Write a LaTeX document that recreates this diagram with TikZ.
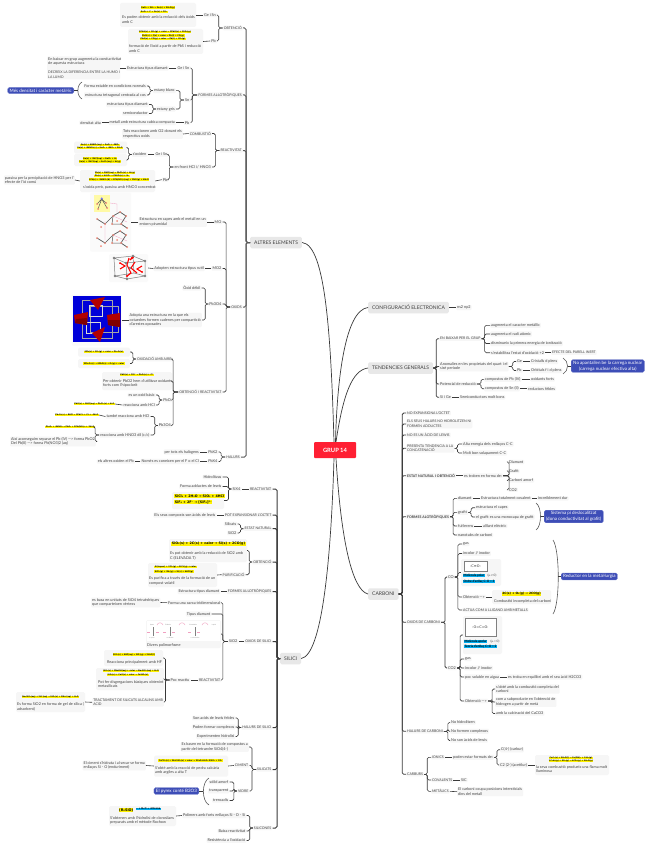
\documentclass[tikz,border=0pt]{standalone}
\usepackage{fontspec}
\setmainfont{Lato}
\newfontfamily\chemfont{DejaVu Sans}
\definecolor{txtcol}{HTML}{404040}
\definecolor{boxcol}{HTML}{F6F6F6}
\definecolor{maincol}{HTML}{E8E8E8}
\definecolor{linecol}{HTML}{3A3A3A}
\definecolor{barcol}{HTML}{5A5A5A}
\definecolor{bluecol}{HTML}{3D4DB7}
\definecolor{redcol}{HTML}{FF1F33}
\definecolor{pinkcol}{HTML}{F0A0C0}
\definecolor{saltcol}{HTML}{F08878}
\tikzset{
lab/.style={fill=boxcol,rounded corners=1,inner xsep=1,inner ysep=0.8,text=txtcol,align=left,font=\fontsize{3.8}{4.6}\selectfont},
tl/.style={lab,anchor=east},
tr/.style={lab,anchor=west},
upc/.style={font=\fontsize{3.5}{4.6}\selectfont},
upb/.style={font=\fontsize{3.5}{4.6}\selectfont\bfseries},
ins/.style={inner sep=0,anchor=west,text=txtcol,align=left,font=\fontsize{3.8}{4.6}\selectfont},
bx/.style={fill=boxcol,rounded corners=1.5,inner sep=0},
hl/.style={fill=yellow,inner xsep=0.6,inner ysep=0.3,text=black,font=\fontsize{2}{2.5}\selectfont\chemfont\bfseries},
hlb/.style={hl,font=\fontsize{3.3}{4}\selectfont\chemfont\bfseries},
cy/.style={fill=cyan,inner xsep=0.5,inner ysep=0.3,anchor=west,text=black,font=\fontsize{3.1}{4}\selectfont\bfseries},
mainnode/.style={fill=maincol,rounded corners=1.5,inner xsep=4,text=txtcol,minimum height=11.5,font=\fontsize{5}{6}\selectfont},
bluenode/.style={fill=bluecol,draw=bluecol!70,line width=0.3,rounded corners=1.5,inner xsep=2,inner ysep=1.4,text=white,align=center,font=\fontsize{4.5}{5.6}\selectfont},
lk/.style={draw=linecol,line width=0.6,rounded corners=1.5},
bar/.style={draw=barcol,line width=1,rounded corners=1.5},
curve/.style={draw=linecol,line width=0.7},
brk/.style={draw=barcol,line width=0.6},
}
\begin{document}
\begin{tikzpicture}[x=1pt,y=-1pt]
\useasboundingbox[fill=white] (0,0) rectangle (648,848);
\node[fill=redcol,rounded corners=1,text=white,minimum width=42,minimum height=16,inner sep=0,font=\fontsize{5.8}{7}\selectfont\bfseries] (G) at (335,450) {GRUP 14};
\node[mainnode,anchor=west] (altres) at (250,242.5) {ALTRES ELEMENTS};
\node[mainnode,anchor=west] (silici) at (280,658.5) {SILICI};
\node[mainnode,anchor=west] (config) at (368,307.5) {CONFIGURACIÓ ELECTRONICA};
\node[mainnode,anchor=west] (tend) at (368,368) {TENDENCIES GENERALS};
\node[mainnode,anchor=west] (carboni) at (368,594) {CARBONI};
\draw[curve] (altres.east) .. controls (326,245) and (331,340) .. ([xshift=-1]G.north);
\draw[curve] (silici.east) .. controls (322,655) and (331,560) .. ([xshift=-1]G.south);
\draw[curve] (config.west) .. controls (345,310) and (337,380) .. ([xshift=0.5]G.north);
\draw[curve] (tend.west) .. controls (352,370) and (343,395) .. ([xshift=1]G.north);
\draw[curve] (carboni.west) .. controls (352,590) and (341,540) .. ([xshift=1]G.south);

\node[tl,upc] (aob) at (243,28) {OBTENCIÓ};
\node[tl] (aobGe) at (217,15) {Ge i Sn};
\node[tl] (aobPb) at (217,41) {Pb};
\node[bx,minimum width=76,minimum height=24] (aobF) at (158,15) {};
\node[hl] (aobFa) at (158,7.5) {GeO₂ + 2H₂ → Ge(s) + 2H₂O(g)};
\node[hl] (aobFb) at (154,12) {SnO₂ + C → Sn(s) + CO₂};
\node[ins] (aobFt) at (122,19.5) {Es poden obtenir amb la reducció dels òxids\\amb C};
\node[bx,minimum width=75,minimum height=25] (aobP) at (165.5,41.5) {};
\node[hl] (aobPa) at (165,32) {2PbS(s) + 3O₂(g) + calor → 2PbO(s) + 2SO₂(g)};
\node[hl] (aobPb2) at (163,35.5) {PbO(s) + C(s) + calor → Pb(l) + CO(g)};
\node[hl] (aobPc) at (163,39) {PbO(s) + CO(g) + calor → Pb(l) + CO₂(g)};
\node[ins] (aobPt) at (129,48.5) {formació de l'òxid a partir de PbS i reducció\\amb C};
\foreach \n in {aobGe,aobPb} \draw[lk] (aob.west) -- ++(-4,0) |- (\n.east);
\draw[lk] (aobGe.west) -- (aobF.east);
\draw[lk] (aobPb.west) -- (aobP.east);

\node[tl,upc] (afo) at (243,95) {FORMES AL·LOTRÒPIQUES};
\node[tl] (afoGe) at (190.5,68) {Ge i Sn};
\node[tl] (afoSn) at (190.5,100) {Sn};
\node[tl] (afoPb) at (190.5,122.7) {Pb};
\node[tl] (afoDi) at (169,68) {Estructura tipus diamant};
\node[bx,minimum width=73,minimum height=23] (afoDb) at (83.5,68) {};
\node[ins] (afoDt) at (48,68) {En baixar en grup augmenta la conductivitat\\de aquesta estructura\\[4.6pt]{\fontsize{3.5}{4.6}\selectfont DECREIX LA DIFERENCIA ENTRE LA HUMO I}\\{\fontsize{3.5}{4.6}\selectfont LA LUMO}};
\node[tl] (afoBl) at (176,90.6) {estany blanc};
\node[tl] (afoGr) at (176,109) {estany gris};
\node[tl] (afoSa) at (147,86) {Forma estable en condicions normals};
\node[tl] (afoSb) at (147,95) {estructura tetragonal centrada al cos};
\node[tl] (afoSc) at (149,104.5) {estructura tipus diamant};
\node[tl] (afoSd) at (149,113.5) {semiconductor};
\node[tl] (afoMe) at (176,122.7) {metall amb estructura cubica compacta};
\node[tl] (afoAl) at (102,122.7) {densitat alta};
\node[bluenode,anchor=east] (afoBn) at (74,90.5) {Més densitat i caràcter metàl·lic};
\coordinate (afoK) at (78,90.5);
\draw[brk] (82,82) .. controls (76.5,85) and (76.5,96) .. (82,99);
\draw[lk] (afoK) -- (afoBn.east);
\foreach \n in {afoGe,afoSn,afoPb} \draw[lk] (afo.west) -- ++(-5,0) |- (\n.east);
\draw[lk] (afoGe.west) -- (afoDi.east);
\draw[lk] (afoDi.west) -- (afoDb.east);
\foreach \n in {afoBl,afoGr} \draw[lk] (afoSn.west) -- ++(-4,0) |- (\n.east);
\foreach \n in {afoSa,afoSb} \draw[lk] (afoBl.west) -- ++(-3,0) |- (\n.east);
\foreach \n in {afoSc,afoSd} \draw[lk] (afoGr.west) -- ++(-3,0) |- (\n.east);
\draw[lk] (afoPb.west) -- (afoMe.east);
\draw[lk] (afoMe.west) -- (afoAl.east);

\node[tl,upc] (are) at (243,150.5) {REACTIVITAT};
\node[tl,upc] (arC) at (212,133.5) {COMBUSTIÓ};
\node[tl] (arCt) at (183,134) {Tots reaccionen amb O2 donant els\\respectius oxids};
\node[tl] (arH) at (212,167) {en front HCl i/ HNO3};
\node[tl] (arGe) at (168.5,154.5) {Ge i Sn};
\node[tl] (arOx) at (147.5,154.5) {s'oxiden};
\node[tl] (arPb) at (168.5,179.7) {Pb};
\node[bx,minimum width=53,minimum height=12] (arOb) at (100.5,147.5) {};
\node[bx,minimum width=53,minimum height=12] (arOg) at (100.5,160) {};
\node[hl] (arOa) at (100,145) {Ge(s) + 4HNO₃(aq) → GeO₂ + 4NO₂};
\node[hl] (arOc) at (100,148) {Sn(s) + 4HNO₃(c) → SnO₂ + 4NO₂ + 2H₂O};
\node[hl] (arOd) at (100,158.5) {Ge(s) + 2HCl(aq) → GeCl₂ + H₂};
\node[hl] (arOe) at (100,161.5) {Sn(s) + 2HCl(aq) → SnCl₂(aq) + H₂(g)};
\node[bx,minimum width=75,minimum height=22] (arPx) at (117.5,181) {};
\node[hl] (arPa) at (115,173) {Pb(s) + 2HCl(aq) → PbCl₂(s) + H₂(g)};
\node[hl] (arPc) at (112,176) {Pb(s) + H₂SO₄ → PbSO₄(s) + H₂};
\node[hl] (arPd) at (119,179.5) {3Pb(s) + 8HNO₃(d) → 3Pb(NO₃)₂(aq) + 2NO(g) + 4H₂O};
\node[ins] (arPt) at (83,187) {s'oxida però, passiva amb HNO3 concentrat};
\node[tl] (arPs) at (75,180) {passiva per la precipitació de HNO3 per l'\\efecte de l'ió comú};
\foreach \n in {arC,arH} \draw[lk] (are.west) -- ++(-4,0) |- (\n.east);
\draw[lk] (arC.west) -- (arCt.east);
\foreach \n in {arGe,arPb} \draw[lk] (arH.west) -- ++(-4,0) |- (\n.east);
\draw[lk] (arGe.west) -- (arOx.east);
\foreach \n in {arOb,arOg} \draw[lk] (arOx.west) -- ++(-3,0) |- (\n.east);
\draw[lk] (arPb.west) -- (arPx.east);
\draw[lk] (arPx.west) -- (arPs.east);

\node[tl,upc] (aox) at (243,307) {OXIDS};
\node[tl] (amo) at (222.5,222) {MO};
\node[tl] (amoT) at (207,222) {Estructura en capes amb el metall en un\\entorn piramidal};
\node[bx,fill=boxcol!50,minimum width=41,minimum height=59] (amoI) at (110.5,222) {};
\fill[yellow!35] (94,195) rectangle (110,212);
\draw[barcol,line width=0.5] (101.7,199) -- (98,209) (101.7,199) -- (107,208) (101.7,199) -- (97,204) (101.7,199) -- (106,203);
\fill[blue!55!white] (101.7,198.5) circle (1.2);
\draw[pinkcol,line width=0.3] (110,203) -- (117,204) -- (117,212) (105,221) -- (105,240) (113,216) -- (127,222) (113,235) -- (127,241);
\foreach \dy in {0,19} {
\draw[barcol,line width=0.7,yshift=-\dy] (97,219) -- (105,224) -- (113,216) -- (120,212) -- (126,216) -- (121,224) -- (127,228);
\draw[barcol,line width=0.5,yshift=-\dy] (113,216) -- (112,224) -- (121,224);
\foreach \px/\py in {97/219,101/227,105/224,113/216,120/212,126/216,121/224,127/228,112/224,117/221}
\fill[saltcol,yshift=-\dy] (\px,\py) circle (1);
}
\foreach \px/\py in {98/209,107/208,97/204,106/203} \fill[saltcol] (\px,\py) circle (1);
\node[tl] (amt) at (222.5,268.5) {MO2};
\node[tl] (amtT) at (205,268.5) {Adopten estructura tipus rutil};
\node[bx,fill=boxcol!50,minimum width=39,minimum height=28] (amtI) at (128.5,268) {};
\draw[gray,line width=0.5] (114,258) -- (133,256) -- (145,261) -- (145,276) -- (134,273) -- (115,276) -- cycle (114,258) -- (126,263) -- (145,261) (126,263) -- (127,279) -- (115,276) (127,279) -- (145,276) (133,256) -- (134,273);
\draw[red,line width=1.1] (120,263) -- (125,266) -- (120,269) (129,258) -- (127,265) -- (131,273) -- (127,276) (135,262) -- (131,268) -- (137,273) (142,266) -- (137,269) -- (142,272) (133,257) -- (130,260);
\fill[red] (132.5,257.5) circle (1.3) (127,276) circle (1.2) (120,263) circle (1) (142,272) circle (1);
\foreach \px/\py in {114/258,133/256,145/261,145/276,115/276,127/279,126/263,130/268} \fill[gray] (\px,\py) circle (1.3);
\node[tl] (apb) at (222.5,304) {Pb3O4};
\node[tl] (apbD) at (201.5,288) {Òxid dèbil};
\node[tl] (apbT) at (202,320) {Adopta una estructura en la que els\\octaedres formen cadenes per compartició\\d'arestes oposades};
\node[bx,fill=boxcol!50,minimum width=50,minimum height=51] (apbI) at (96.5,320) {};
\fill[blue!85!black] (73,296) rectangle (120.7,342);
\draw[gray!70,line width=0.3] (82,300) rectangle (112,338) (90,306) rectangle (118,332);
\draw[white!85!black,line width=0.5] (89,305) rectangle (102,316) (86,322) rectangle (100,333);
\fill[red!70!black] (90,300) -- (105,297) -- (98,310) -- cycle (74,315) -- (88,312) -- (87,325) -- (75,323) -- cycle (107,315) -- (120,313) -- (120,327) -- (108,325) -- cycle (92,333) -- (105,327) -- (100,342) -- cycle;
\fill[red!50!black] (76,319) -- (87,318) -- (87,325) -- (75,323) -- cycle (108,320) -- (120,320) -- (120,327) -- (108,325) -- cycle;
\node[tl,upc] (aor) at (222.5,392) {OBTENCIÓ I REACTIVITAT};
\node[tl,upc] (aoA) at (172.5,359) {OXIDACIÓ AMB AIRE};
\node[bx,minimum width=52,minimum height=9] (aoAb) at (104,352) {};
\node[bx,minimum width=52,minimum height=9] (aoAd) at (104,363.5) {};
\node[hl] (aoAa) at (104,352) {3Pb(s) + 2O₂(g) + calor → Pb₃O₄(s)};
\node[hl] (aoAc) at (104,363.5) {2Pb₃O₄(s) → 6PbO(s) + O₂(g) + calor};
\node[bx,minimum width=70,minimum height=18] (aoHb) at (137,381) {};
\node[hl] (aoHa) at (137,375) {PbO(s) + ClO⁻ → PbO₂(s) + Cl⁻};
\node[ins] (aoHt) at (103,383.5) {Per obtenir PbO2 hem d'utilitzar oxidants\\forts com l'hipoclorit};
\node[tl] (aoP) at (172,400) {PbO};
\node[tl] (aoPa) at (156,395) {es un oxid bàsic};
\node[tl] (aoPc) at (156,405) {reacciona amb HCl};
\node[hl,anchor=east] (aoPf) at (115,404) {PbO(s) + 2HCl(aq) → PbCl₂(s) + H₂O};
\node[tl] (aoQ) at (172,425.5) {Pb3O4};
\node[tl] (aoQa) at (150.5,416.5) {també reacciona amb HCl};
\node[hl,anchor=east] (aoQf) at (99,415) {Pb₃O₄(s) + 8HCl → 3PbCl₂ + Cl₂ + 4H₂O};
\node[tl] (aoQc) at (150.5,435) {reacciona amb HNO3 dil (c/c)};
\node[hl,anchor=east] (aoQh) at (95,427) {Pb₃O₄ + 4HNO₃ → PbO₂ + 2Pb(NO₃)₂ + 2H₂O};
\node[tl] (aoQt) at (96,441.5) {Així aconseguim separar el Pb (IV) ---> forma PbO2\\Del Pb(II) ---> forma Pb(NO3)2 (aq)};
\foreach \n in {amo,amt,apb,aor} \draw[lk] (aox.west) -- ++(-4,0) |- (\n.east);
\draw[lk] (amo.west) -- (amoT.east);
\draw[lk] (amoT.west) -- (amoI.east);
\draw[lk] (amt.west) -- (amtT.east);
\draw[lk] (amtT.west) -- (amtI.east);
\foreach \n in {apbD,apbT} \draw[lk] (apb.west) -- ++(-3,0) |- (\n.east);
\draw[lk] (apbT.west) -- (apbI.east);
\foreach \n in {aoA,aoHb,aoP,aoQ} \draw[lk] (aor.west) -- ++(-5,0) |- (\n.east);
\foreach \n in {aoAb,aoAd} \draw[lk] (aoA.west) -- ++(-3,0) |- (\n.east);
\foreach \n in {aoPa,aoPc} \draw[lk] (aoP.west) -- ++(-3,0) |- (\n.east);
\draw[lk] (aoPc.west) -- (aoPf.east);
\foreach \n in {aoQa,aoQc} \draw[lk] (aoQ.west) -- ++(-3,0) |- (\n.east);
\draw[lk] (aoQa.west) -- (aoQf.east);
\foreach \n in {aoQh,aoQt} \draw[lk] (aoQc.west) -- ++(-4,0) |- (\n.east);
\node[tl,upc] (aha) at (241,457) {HALURS};
\node[tl] (ahb) at (218.5,452) {PbX2};
\node[tl] (ahc) at (218.5,461.5) {PbX4};
\node[tl] (ahd) at (200,452) {per tots els halògens};
\node[tl] (ahe) at (200,461.5) {Només es coneixen per el F o el Cl};
\node[tl] (ahf) at (135,461.5) {els altres oxiden el Pb};
\foreach \n in {ahb,ahc} \draw[lk] (aha.west) -- ++(-4,0) |- (\n.east);
\draw[lk] (ahb.west) -- (ahd.east);
\draw[lk] (ahc.west) -- (ahe.east);
\draw[lk] (ahe.west) -- (ahf.east);
\foreach \n in {aob,afo,are,aox,aha} \draw[bar] (altres.west) -- ++(-4,0) |- (\n.east);

\node[tl,upc] (sre) at (272.5,489) {REACTIVITAT};
\node[tl] (srx) at (241.5,489) {SiX4};
\node[tl] (sra) at (222.5,477) {Hidrolitzas};
\node[tl] (srb) at (222.5,486.5) {Forma adductes de lewis};
\node[bx,minimum width=52,minimum height=17] (srF) at (198,500.5) {};
\node[hlb,anchor=west] (srFa) at (174,496) {SiCl₄ + 2H₂O → SiO₂ + 4HCl};
\node[hlb,anchor=west] (srFb) at (174,502) {SiF₄ + 2F⁻ → [SiF₆]²⁻};
\draw[lk] (sre.west) -- (srx.east);
\foreach \n in {sra,srb,srF} \draw[lk] (srx.west) -- ++(-3,0) |- (\n.east);
\node[tl,upc] (spo) at (272.5,515) {POT EXPANSIONAR L'OCTET};
\node[tl] (spa) at (216.5,515) {Els seus composts son àcids de lewis};
\draw[lk] (spo.west) -- (spa.east);
\node[tl,upc] (ses) at (272.5,528.7) {ESTAT NATURAL};
\node[tl] (sea) at (237.5,524) {Silicats};
\node[tl] (seb) at (237.5,533) {SiO2};
\foreach \n in {sea,seb} \draw[lk] (ses.west) -- ++(-3,0) |- (\n.east);
\node[tl,upc] (sob) at (272.5,562) {OBTENCIÓ};
\node[bx,minimum width=78,minimum height=23] (soA) at (208,550.5) {};
\node[hlb,anchor=west] (soAf) at (171,544) {SiO₂(s) + 2C(s) + calor → Si(s) + 2CO(g)};
\node[ins] (soAt) at (170,556) {Es pot obtenir amb la reducció de SiO2 amb\\C (ELEVADA T)};
\node[tl,upc] (sop) at (245.5,574.7) {PURIFICACIÓ};
\node[bx,minimum width=69,minimum height=24] (sopB) at (182.5,575) {};
\node[hl,anchor=west] (sopa) at (154,567) {Si(impur) + 2Cl₂(g) → SiCl₄(g) + calor};
\node[hl,anchor=west] (sopc) at (154,571.5) {SiCl₄(g) + 2H₂(g) → Si(s) + 4HCl(g)};
\node[ins] (sopt) at (149,581.2) {Es purifica a través de la formació de un\\compost volatil};
\foreach \n in {soA,sop} \draw[lk] (sob.west) -- ++(-3,0) |- (\n.east);
\draw[lk] (sop.west) -- (sopB.east);
\node[tl,upc] (sfo) at (272.5,591.5) {FORMES AL·LOTRÒPIQUES};
\node[tl] (sfa) at (220.5,591.5) {Estructura tipus diamant};
\draw[lk] (sfo.west) -- (sfa.east);
\node[tl,upc] (sox) at (272.5,641.5) {OXIDS DE SILICI};
\node[tl] (sos) at (238.5,641.5) {SiO2};
\node[tl] (sxa) at (221.5,602.7) {Forma una xarxa tridimensional};
\node[tl] (sxt) at (160.5,602.5) {es basa en unitats de SiO4 tetraèdriques\\que comparteixen vèrtexs};
\node[tl] (sxb) at (211.5,614) {Tipus diamant};
\node[bx,minimum width=75,minimum height=28] (sxI) at (183.5,634) {};
\fill[white] (147,621) rectangle (220,641);
\foreach \px/\ty/\lb in {152/625/Quars,168/625/Tridimita,193/625/Cristobalita,214/625/Líquid,152/638/α-quars,170/638/α-tridimita,195/638/α-cristobalita}
\node[inner sep=0,text=gray,font=\fontsize{1.5}{2}\selectfont] (sxL\px\ty) at (\px,\ty) {\lb};
\foreach \px in {160,182,205} \draw[pinkcol,line width=0.4] (\px-3,625) .. controls (\px-2,622) and (\px+2,622) .. (\px+3,625);
\foreach \px in {153,170,195} \draw[gray,line width=0.3] (\px,627) -- (\px,636);
\foreach \px in {150,166,191} \draw[pinkcol,line width=0.4] (\px-3,632) -- (\px,632) (\px+6,632) -- (\px+9,632);
\node[ins] (sxt2) at (147,645) {Divers polimorfisme};
\node[tl,upc] (srr) at (221.5,680) {REACTIVITAT};
\node[tl] (srp) at (190.5,680) {Poc reactiu};
\node[bx,minimum width=59,minimum height=16] (srHb) at (133.5,658) {};
\node[hl] (srHa) at (134,654.5) {SiO₂(s) + 4HF(aq) → SiF₄(g) + 2H₂O(l)};
\node[ins] (srHt) at (107,662) {Reacciona principalment amb HF};
\node[bx,minimum width=68,minimum height=22] (srBb) at (130,679) {};
\node[hl] (srBa) at (131,671) {SiO₂(s) + 2NaOH(aq) + calor → Na₂SiO₃(aq) + H₂O};
\node[hl] (srBc) at (128,675) {SiO₂(s) + CaO(s) + calor → CaSiO₃(s)};
\node[ins] (srBt) at (98,684) {Pot fer disgregacions bàsiques obtenint\\metasilicats};
\node[tl,upc] (srT) at (164,702.3) {TRACTAMENT DE SILICATS ALCALINS AMB\\ACID};
\node[bx,minimum width=69,minimum height=20] (srTb) at (50.5,702) {};
\node[hl] (srTa) at (50.5,697) {Na₂SiO₃(aq) + 2H⁺(aq) → SiO₂(s) + 2Na⁺(aq) + H₂O};
\node[ins] (srTt) at (17,707) {Es forma SiO2 en forma de gel de silica (\\adsorbent)};
\draw[lk] (sox.west) -- (sos.east);
\foreach \n in {sxa,sxb,sxI,srr} \draw[lk] (sos.west) -- ++(-5,0) |- (\n.east);
\draw[lk] (sxa.west) -- (sxt.east);
\draw[lk] (srr.west) -- (srp.east);
\foreach \n in {srHb,srBb,srT} \draw[lk] (srp.west) -- ++(-4,0) |- (\n.east);
\draw[lk] (srT.west) -- (srTb.east);
\node[tl,upc] (sha) at (272.5,727.5) {HALURS DE SILICI};
\node[tl] (shb) at (235.5,718) {Son acids de lewis febles};
\node[tl] (shc) at (235.5,727) {Poden formar complexos};
\node[tl] (shd) at (235.5,736.5) {Experimenten hidrolisi};
\foreach \n in {shb,shc,shd} \draw[lk] (sha.west) -- ++(-3,0) |- (\n.east);
\node[tl,upc] (ssi) at (272.5,769.5) {SILICATS};
\node[tl] (ssa) at (249,747) {Es basen en la formació de compostos a\\partir del tetraedre SiO4(4-)};
\node[tl,upc] (ssc) at (249.5,765.5) {CIMENT};
\node[bx,minimum width=74,minimum height=21] (ssB) at (191,766) {};
\node[hl] (ssBa) at (190.5,760.5) {CaCO₃(s) + 2Al₂SiO₅(s) + calor → 2CaO·Al₂O₃·2SiO₂ + CO₂};
\node[ins] (ssBt) at (155,770.5) {S'obté amb la reacció de pedra calcària\\amb argiles a alta T};
\node[tl] (ssD) at (146,765.5) {El ciment s'hidrata i al secar se forma\\enllaços Si - O (enduriment)};
\node[tl,upc] (ssv) at (249.5,791) {VIDRE};
\node[tl] (ssa2) at (229.5,782) {sòlid amorf};
\node[tl] (ssb) at (229.5,791) {transparent};
\node[tl] (ssd) at (229.5,800.5) {trencadís};
\node[bluenode,anchor=east] (ssP) at (199,791) {El pyrex conté B2O3};
\coordinate (ssK) at (203,791);
\draw[brk] (209,778) .. controls (201.5,782) and (201.5,801) .. (209,805);
\draw[lk] (ssK) -- (ssP.east);
\foreach \n in {ssa,ssc,ssv} \draw[lk] (ssi.west) -- ++(-4,0) |- (\n.east);
\draw[lk] (ssc.west) -- (ssB.east);
\draw[lk] (ssB.west) -- (ssD.east);
\foreach \n in {ssa2,ssb,ssd} \draw[lk] (ssv.west) -- ++(-3,0) |- (\n.east);
\node[tl,upc] (sne) at (272.5,828) {SILICONES};
\node[tl] (sna) at (246.5,815.5) {Polimers amb forts enllaços Si - O - Si};
\node[tl] (snb) at (246.5,831) {Baixa reactivitat};
\node[tl] (snc) at (246.5,840.5) {Resistència a l'oxidació};
\node[bx,minimum width=67,minimum height=20] (snB) at (142.5,816) {};
\node[hl,anchor=west,font=\fontsize{3.5}{4}\selectfont\chemfont\bfseries,inner xsep=0] (snBa) at (119,810) {(R₂SiO)};
\node[hl,fill=cyan,anchor=west,inner xsep=0.5,font=\fontsize{2.4}{3}\selectfont\chemfont\bfseries] (snBc) at (136,809) {ₙ + H₂O → silicona};
\node[ins] (snBt) at (110,820.2) {S'obtenen amb l'hidrolisi de clorosilans\\preparats amb el mètode Rochow};
\foreach \n in {sna,snb,snc} \draw[lk] (sne.west) -- ++(-3,0) |- (\n.east);
\draw[lk] (sna.west) -- (snB.east);
\foreach \n in {sre,spo,ses,sob,sfo,sox,sha,ssi,sne} \draw[bar,draw=linecol] (silici.west) -- ++(-3,0) |- (\n.east);

\node[tr] (cns) at (456,307.5) {ns2 np2};
\draw[lk] (config.east) -- (cns.west);
\node[tr,upc] (teb) at (439,338.7) {EN BAIXAR PER EL GRUP};
\node[tr] (tea) at (490,325.3) {augmenta el caracter metàllic};
\node[tr] (tec) at (490,334) {augmenta el radi atòmic};
\node[tr] (ted) at (490,343.5) {disminueix la primera energia de ionització};
\node[tr] (tee) at (490,352.7) {s'estabilitza l'estat d'oxidació +2};
\node[tr,upc] (tef) at (551,352.7) {EFECTE DEL PARELL INERT};
\node[tr] (tan) at (439,366.5) {Anomalies en les propietats del quart i el\\sisè període};
\node[tr] (tag) at (516,361.5) {Ge};
\node[tr] (tap) at (516,370.5) {Pb};
\node[tr] (tah) at (530,361.5) {Cristalls d plens};
\node[tr] (tai) at (530,370.5) {Orbitals f i d plens};
\node[bluenode,anchor=west] (taB) at (571,366) {No apantallen be la carrega nuclear\\(carrega nuclear efectiva alta)};
\coordinate (taK) at (568,366);
\draw[brk] (563,358) .. controls (569,361) and (569,371) .. (563,374);
\draw[lk] (taK) -- (taB.west);
\node[tr] (tpo) at (439,384) {Potencial de reducció};
\node[tr] (tpa) at (484,379.3) {compostos de Pb (IV)};
\node[tr] (tpb) at (484,388.7) {compostos de Sn (II)};
\node[tr] (tpc) at (530,379.3) {oxidants forts};
\node[tr] (tpd) at (527,388.7) {reductors fèbles};
\node[tr] (tsi) at (439,397.3) {Si i Ge};
\node[tr] (tsb) at (459,397.3) {Semiconductors molt bons};
\foreach \n in {teb,tan,tpo,tsi} \draw[bar,line width=0.7,draw=linecol] (tend.east) -- ++(3,0) |- (\n.west);
\foreach \n in {tea,tec,ted,tee} \draw[lk] (teb.east) -- ++(3,0) |- (\n.west);
\draw[lk] (tee.east) -- (tef.west);
\foreach \n in {tag,tap} \draw[lk] (tan.east) -- ++(4,0) |- (\n.west);
\draw[lk] (tag.east) -- (tah.west);
\draw[lk] (tap.east) -- (tai.west);
\foreach \n in {tpa,tpb} \draw[lk] (tpo.east) -- ++(4,0) |- (\n.west);
\draw[lk] (tpa.east) -- (tpc.west);
\draw[lk] (tpb.east) -- (tpd.west);
\draw[lk] (tsi.east) -- (tsb.west);

\node[tr,upc] (ca) at (406,413) {NO EXPANSIONA L'OCTET};
\node[tr,upc] (cb) at (406,424) {ELS SEUS HALURS NO HIDROLITZEN NI\\FORMEN ADDUCTES};
\node[tr,upc] (cc) at (406,435) {NO ES UN ÀCID DE LEWIS};
\node[tr,upc] (cd) at (406,448.3) {PRESENTA TENDENCIA A LA\\CONCATENACIÓ};
\node[tr] (cda) at (462,444) {Alta energia dels enllaços C-C};
\node[tr] (cdb) at (462,453) {Molt bon solapament C-C};
\foreach \n in {cda,cdb} \draw[lk] (cd.east) -- ++(3,0) |- (\n.west);
\node[tr,upb] (ce) at (406,475.7) {ESTAT NATURAL I OBTENCIÓ};
\node[tr] (cea) at (463,475.7) {es troben en forma de:};
\node[tr] (ceb) at (508,462) {Diamant};
\node[tr] (cec) at (508,471) {Grafit};
\node[tr] (ced) at (508,480.5) {Carboni amorf};
\node[tr] (cee) at (508,489.7) {CO2};
\draw[lk] (ce.east) -- (cea.west);
\foreach \n in {ceb,cec,ced,cee} \draw[lk] (cea.east) -- ++(6,0) |- (\n.west);
\node[tr,upb] (cf) at (406,516.7) {FORMES ALOTRÒPIQUES};
\node[tr] (cfa) at (457,498.3) {diamant};
\node[tr] (cfb) at (480,498.3) {Estructura totalment covalent};
\node[tr] (cfc) at (537,498.3) {increiblement dur};
\node[tr] (cfd) at (457,512.3) {grafit};
\node[tr] (cfe) at (475,507.7) {estructura el capes};
\node[tr] (cfg) at (475,517) {el grafit es una monocapa de grafit};
\node[tr] (cfh) at (457,526) {ful·lerens};
\node[tr] (cfi) at (482,526) {aïllant elèctric};
\node[tr] (cfj) at (457,535) {nanotubs de carboni};
\node[bluenode,anchor=west] (cfB) at (544,516.5) {Sistema pi deslocalitzat\\(dona conductivitat al grafit)};
\coordinate (cfK) at (541,516.5);
\draw[brk] (536,503) .. controls (542,507) and (542,526) .. (536,530);
\draw[lk] (cfK) -- (cfB.west);
\foreach \n in {cfa,cfd,cfh,cfj} \draw[lk] (cf.east) -- ++(3,0) |- (\n.west);
\draw[lk] (cfa.east) -- (cfb.west);
\draw[lk] (cfb.east) -- (cfc.west);
\foreach \n in {cfe,cfg} \draw[lk] (cfd.east) -- ++(3,0) |- (\n.west);
\draw[lk] (cfh.east) -- (cfi.west);

\node[tr,upc] (co) at (406,622.3) {OXIDS DE CARBONI};
\node[tr] (coa) at (447,577) {CO};
\node[tr] (cob) at (462,544) {gas};
\node[tr] (coc) at (462,553.5) {incolor // inodor};
\node[bx,minimum width=40,minimum height=27] (coL) at (481,572.5) {};
\node[draw=gray,fill=white,line width=0.4,minimum width=23,minimum height=10.5,inner sep=0,text=txtcol,font=\fontsize{3.5}{4}\selectfont\chemfont] (coLa) at (475.5,566) {:C≡O:};
\node[cy] (coLb) at (463,575.7) {Molècula polar};
\node[ins,font=\fontsize{3.1}{4}\selectfont] (coLc) at (487.5,575.7) {(μ ≠ 0)};
\node[cy] (coLd) at (463,581.7) {Ordre d'enllaç C-O = 3};
\node[tr] (cod) at (462,597) {Obtenció --->};
\node[bx,minimum width=59,minimum height=14] (coO) at (521.5,597) {};
\node[hl,font=\fontsize{3}{4}\selectfont\chemfont\bfseries] (coOa) at (521.5,594) {2C(s) + O₂(g) → 2CO(g)};
\node[ins] (coOb) at (494,601) {Combustió incompleta del carboni};
\node[tr,upc] (coe) at (462,610) {ACTUA COM A LLIGAND AMB METALLS};
\node[bluenode,anchor=west] (coB) at (561,576.5) {Reductor en la metal·lurgia};
\coordinate (coK) at (558,576.5);
\draw[brk] (553,540) .. controls (560,550) and (560,604) .. (553,614);
\draw[lk] (coK) -- (coB.west);
\node[tr] (cp) at (447,668) {CO2};
\node[bx,minimum width=39,minimum height=38] (cpL) at (482.5,635) {};
\node[draw=gray,fill=white,line width=0.4,minimum width=31,minimum height=18,inner sep=0,text=txtcol,font=\fontsize{3.5}{4}\selectfont\chemfont] (cpLa) at (480.5,627) {:O=C=O:};
\node[cy] (cpLb) at (464,641.5) {Molècula apolar};
\node[ins,font=\fontsize{3.1}{4}\selectfont] (cpLc) at (490.5,641.5) {(μ = 0)};
\node[cy] (cpLd) at (464,646.7) {Teoria d'enllaç C=O = 2};
\node[tr] (cpa) at (464,659) {gas};
\node[tr] (cpb) at (464,668) {incolor // inodor};
\node[tr] (cpc) at (464,677) {poc soluble en aigua};
\node[tr] (cpd) at (507,677) {es troba en equilibri amb el seu àcid H2CO3};
\node[tr] (cpe) at (464,701) {Obtenció --->};
\node[tr] (cpf) at (495,689) {s'obté amb la combustió completa del\\carboni};
\node[tr] (cpg) at (495,702) {com a subproducte en l'obtenció de\\hidrogen a partir de metà};
\node[tr] (cph) at (495,713.5) {amb la calcinació del CaCO3};
\foreach \n in {coa,cp} \draw[lk,line width=0.8] (co.east) -- ++(4,0) |- (\n.west);
\foreach \n in {cob,coc,coL,cod,coe} \draw[lk] (coa.east) -- ++(3,0) |- (\n.west);
\draw[lk] (cod.east) -- (coO.west);
\foreach \n in {cpL,cpa,cpb,cpc,cpe} \draw[lk] (cp.east) -- ++(3,0) |- (\n.west);
\draw[lk] (cpc.east) -- (cpd.west);
\foreach \n in {cpf,cpg,cph} \draw[lk] (cpe.east) -- ++(4,0) |- (\n.west);
\node[tr,upc] (ch) at (406,731.3) {HALURS DE CARBONI};
\node[tr] (cha) at (450,722.3) {No hidrolitzen};
\node[tr] (chb) at (450,731.3) {No formen complexos};
\node[tr] (chc) at (450,740.5) {No son àcids de lewis};
\foreach \n in {cha,chb,chc} \draw[lk] (ch.east) -- ++(4,0) |- (\n.west);
\node[tr,upc] (cu) at (406,774.3) {CARBURS};
\node[tr,upc] (cua) at (431,757.3) {IONICS};
\node[tr] (cub) at (452,757.3) {poden estar formats de:};
\node[tr] (cuc) at (500,749.7) {C(4-) (carbur)};
\node[tr] (cud) at (499,765) {C2 (2-) (acetilur)};
\node[bx,minimum width=74,minimum height=20] (cuB) at (572,765) {};
\node[hl] (cuBa) at (571,758) {CaC₂(s) + 2H₂O(l) → Ca(OH)₂ + C₂H₂(g)};
\node[hl] (cuBb) at (571,761) {2C₂H₂(g) + 5O₂(g) → 4CO₂(g) + 2H₂O(g)};
\node[ins] (cuBt) at (536,769.3) {la seva combustió produeix una flama molt\\lluminosa};
\node[tr,upc] (cue) at (431,780) {COVALENTS};
\node[tr] (cuf) at (460,780) {SiC};
\node[tr,upc] (cug) at (431,791.3) {METÀLICS};
\node[tr] (cui) at (457,791.7) {El carboni ocupa posicions intersticials\\dins del metall};
\foreach \n in {cua,cue,cug} \draw[lk] (cu.east) -- ++(3,0) |- (\n.west);
\draw[lk] (cua.east) -- (cub.west);
\foreach \n in {cuc,cud} \draw[lk] (cub.east) -- ++(3,0) |- (\n.west);
\draw[lk] (cud.east) -- (cuB.west);
\draw[lk] (cue.east) -- (cuf.west);
\draw[lk] (cug.east) -- (cui.west);
\foreach \n in {ca,cb,cc,cd,ce,cf,co,ch,cu} \draw[bar,line width=0.8,draw=linecol] (carboni.east) -- ++(3.5,0) |- (\n.west);
\end{tikzpicture}
\end{document}
